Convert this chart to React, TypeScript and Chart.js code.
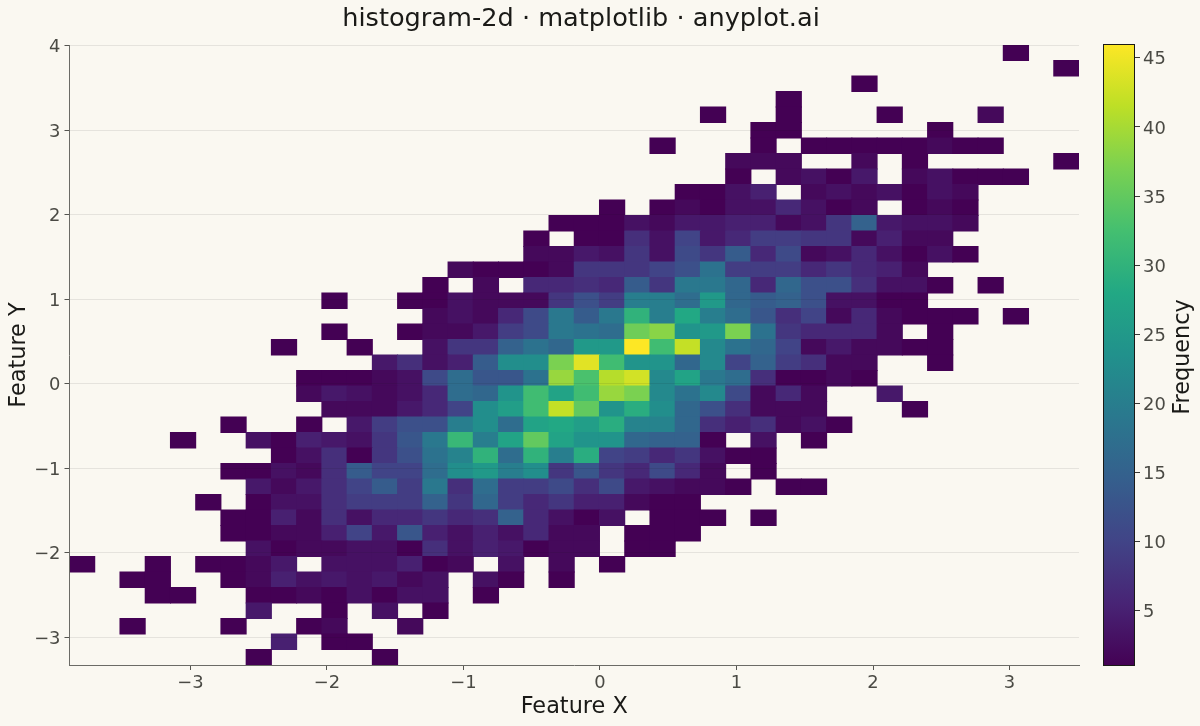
import React, { useEffect, useRef } from "react";
import { Chart, registerables } from "chart.js";

Chart.register(...registerables);

const titleText = "histogram-2d · matplotlib · anyplot.ai";
const xLabel = "Feature X";
const yLabel = "Feature Y";
const cbLabel = "Frequency";

const xTicks = [-3, -2, -1, 0, 1, 2, 3];
const yTicks = [-3, -2, -1, 0, 1, 2, 3, 4];
const cbTicks = [5, 10, 15, 20, 25, 30, 35, 40, 45];

const xRange = [-3.886, 3.509];
const yRange = [-3.331, 4.006];
const cbRange = [1, 46];
const binCount = 40;

// First occupied column of each row (top row first), then the counts from that column on.
const rowOffsets = [37, 39, 31, 28, 25, 27, 23, 26, 26, 24, 21, 19, 18, 18, 15, 14, 10, 14, 10, 8, 12, 9, 9, 10, 6, 4, 8, 6, 7, 5, 6, 6, 7, 0, 2, 3, 7, 2, 8, 7];
const rowCounts = [
  [1],
  [1],
  [1],
  [1],
  [1, 0, 0, 1, 0, 0, 0, 1, 0, 0, 0, 2],
  [1, 1, 0, 0, 0, 0, 0, 1],
  [1, 0, 0, 0, 1, 0, 1, 1, 1, 1, 1, 2, 1, 1],
  [2, 2, 2, 0, 0, 2, 0, 1, 0, 0, 0, 0, 0, 1],
  [1, 0, 2, 3, 1, 4, 0, 2, 3, 1, 1, 1],
  [1, 1, 3, 5, 0, 2, 3, 2, 3, 1, 3, 2],
  [1, 0, 1, 2, 1, 3, 3, 6, 3, 1, 2, 0, 1, 2, 1],
  [1, 1, 1, 3, 2, 4, 4, 5, 5, 2, 3, 8, 15, 4, 3, 3, 2],
  [1, 0, 1, 1, 7, 3, 10, 4, 6, 9, 9, 8, 8, 2, 5, 2, 2],
  [2, 2, 4, 3, 8, 3, 11, 8, 14, 6, 11, 2, 3, 6, 3, 1, 3, 1],
  [2, 1, 1, 1, 2, 8, 8, 8, 10, 12, 18, 9, 9, 9, 6, 8, 6, 5, 2],
  [1, 0, 2, 0, 6, 6, 7, 6, 14, 8, 19, 19, 16, 6, 16, 12, 12, 7, 3, 3, 1, 0, 1],
  [1, 0, 0, 1, 1, 3, 2, 2, 2, 8, 12, 9, 20, 20, 17, 25, 16, 14, 15, 12, 3, 3, 1, 1],
  [2, 3, 2, 6, 11, 19, 14, 19, 30, 20, 28, 20, 17, 13, 7, 10, 2, 6, 2, 1, 1, 1, 0, 1],
  [1, 0, 0, 1, 2, 2, 4, 9, 11, 19, 18, 17, 36, 38, 24, 25, 37, 18, 8, 6, 6, 6, 2, 0, 1],
  [1, 0, 0, 1, 0, 0, 3, 8, 8, 15, 18, 16, 25, 25, 46, 32, 42, 22, 18, 16, 10, 2, 4, 2, 2, 1, 1],
  [4, 7, 3, 5, 14, 23, 23, 37, 44, 32, 24, 24, 16, 22, 10, 15, 9, 7, 2, 2, 0, 0, 1],
  [1, 1, 1, 2, 3, 11, 17, 13, 13, 18, 39, 33, 41, 43, 22, 27, 19, 17, 7, 1, 1, 2, 1],
  [2, 4, 3, 2, 3, 6, 17, 16, 24, 32, 27, 32, 39, 37, 22, 18, 22, 11, 2, 6, 2, 0, 0, 4],
  [2, 2, 2, 4, 6, 10, 23, 26, 32, 42, 35, 24, 29, 23, 16, 12, 7, 2, 2, 2, 0, 0, 0, 1],
  [1, 0, 0, 1, 0, 4, 9, 12, 12, 20, 23, 17, 27, 28, 26, 29, 21, 21, 16, 7, 5, 7, 2, 3, 1],
  [1, 0, 0, 3, 1, 5, 4, 3, 8, 13, 19, 31, 20, 27, 35, 27, 24, 24, 16, 15, 15, 1, 0, 3, 0, 1],
  [1, 3, 7, 1, 8, 12, 18, 21, 30, 17, 30, 20, 29, 10, 9, 6, 8, 3, 1, 1],
  [1, 1, 3, 2, 7, 14, 10, 10, 17, 23, 25, 20, 23, 8, 13, 8, 6, 11, 6, 2, 0, 1],
  [4, 2, 4, 7, 10, 14, 9, 19, 7, 17, 9, 9, 11, 7, 11, 4, 3, 2, 2, 1, 0, 1, 1],
  [1, 0, 1, 3, 3, 7, 9, 9, 9, 15, 8, 16, 9, 6, 8, 5, 5, 2, 1, 1],
  [1, 1, 5, 2, 7, 3, 6, 6, 8, 6, 7, 15, 6, 3, 1, 3, 0, 1, 1, 1, 0, 1],
  [1, 1, 2, 2, 5, 10, 4, 13, 5, 3, 5, 3, 6, 2, 2, 0, 1, 1, 1],
  [3, 1, 2, 2, 3, 3, 1, 7, 3, 5, 4, 1, 2, 2, 0, 1, 1],
  [1, 0, 0, 1, 0, 1, 1, 2, 4, 0, 3, 3, 3, 5, 1, 2, 0, 3, 0, 2, 0, 1],
  [1, 1, 0, 0, 1, 2, 5, 3, 4, 3, 4, 2, 3, 0, 3, 1, 0, 1],
  [1, 1, 0, 0, 1, 1, 2, 1, 3, 1, 3, 3, 0, 1],
  [4, 0, 0, 1, 0, 3, 0, 1],
  [1, 0, 0, 0, 1, 0, 0, 1, 2, 0, 0, 2],
  [5, 0, 1, 1],
  [1, 0, 0, 0, 0, 1],
];

const viridisStops = ["#440154", "#482475", "#414487", "#355f8d", "#2a788e", "#21918c", "#22a884", "#44bf70", "#7ad151", "#bddf26", "#fde725"];

const BG = "#FAF8F1";
const FONT = "'DejaVu Sans', sans-serif";
const INK = "#1A1A17";
const SOFT = "#4A4A44";

function hexToRgb(h: string) {
  return [1, 3, 5].map((i) => parseInt(h.slice(i, i + 2), 16));
}

function viridis(t: number) {
  const p = Math.max(0, Math.min(1, t)) * (viridisStops.length - 1);
  const i = Math.min(Math.floor(p), viridisStops.length - 2);
  const f = p - i;
  const a = hexToRgb(viridisStops[i]);
  const b = hexToRgb(viridisStops[i + 1]);
  const c = a.map((v, k) => Math.round(v + (b[k] - v) * f));
  return `rgb(${c[0]},${c[1]},${c[2]})`;
}

function buildCells() {
  const xStep = (xRange[1] - xRange[0]) / binCount;
  const yStep = (yRange[1] - yRange[0]) / binCount;
  const points: { x: number; y: [number, number] }[] = [];
  const colors: string[] = [];
  rowCounts.forEach((row, r) => {
    row.forEach((count, k) => {
      if (!count) return;
      const col = rowOffsets[r] + k;
      const hi = yRange[1] - r * yStep;
      points.push({ x: xRange[0] + (col + 0.5) * xStep, y: [hi - yStep, hi] });
      colors.push(viridis((count - cbRange[0]) / (cbRange[1] - cbRange[0])));
    });
  });
  return { points, colors };
}

const fmt = (v: number | string) => String(v).replace("-", "\u2212");

const titleOffset = {
  id: "titleOffset",
  afterLayout(chart: any) {
    if (chart.titleBlock) chart.titleBlock.right = 1162;
  },
};

const cbTitle = {
  id: "cbTitle",
  afterDraw(chart: any) {
    const { ctx } = chart;
    ctx.save();
    ctx.translate(1183, (chart.chartArea.top + chart.chartArea.bottom) / 2 + 2);
    ctx.rotate(-Math.PI / 2);
    ctx.font = `22.4px ${FONT}`;
    ctx.fillStyle = INK;
    ctx.textAlign = "center";
    ctx.textBaseline = "middle";
    ctx.fillText(cbLabel, 0, 0);
    ctx.restore();
  },
};

export default function App() {
  const mainRef = useRef<HTMLCanvasElement>(null);
  const barRef = useRef<HTMLCanvasElement>(null);

  useEffect(() => {
    const { points, colors } = buildCells();
    const main = new Chart(mainRef.current!, {
      type: "bar",
      data: {
        datasets: [
          {
            label: "Count",
            data: points as any,
            backgroundColor: colors,
            borderWidth: 0,
            inflateAmount: 0.5,
            categoryPercentage: 1,
            barPercentage: 1,
          },
        ],
      },
      plugins: [titleOffset],
      options: {
        animation: false,
        responsive: false,
        devicePixelRatio: 1,
        layout: { padding: { left: 0, right: 121, top: 0, bottom: 0 } },
        plugins: {
          legend: { display: false },
          tooltip: { enabled: false },
          title: {
            display: true,
            text: titleText,
            color: INK,
            fullSize: true,
            font: { family: FONT, size: 25.6, weight: "normal", lineHeight: 1.2 },
            padding: { top: 4, bottom: 10.3 },
          },
        },
        scales: {
          x: {
            type: "linear",
            min: xRange[0],
            max: xRange[1],
            offset: false,
            grid: { offset: false, drawOnChartArea: false, drawTicks: true, tickLength: 5, tickColor: "#555550" },
            border: { display: true, color: "#6b6b66", width: 1, z: 2 },
            ticks: { color: SOFT, font: { family: FONT, size: 17.9 }, padding: 3, maxRotation: 0, callback: (v: any) => fmt(v) },
            title: { display: true, text: xLabel, color: INK, font: { family: FONT, size: 22.4 }, padding: { top: 3, bottom: 5 } },
            afterBuildTicks: (s: any) => {
              s.ticks = xTicks.map((value) => ({ value }));
            },
            afterFit: (s: any) => {
              s.height = 61;
            },
          },
          y: {
            type: "linear",
            min: yRange[0],
            max: yRange[1],
            grid: { z: 1, color: "rgba(26,26,23,0.09)", lineWidth: 1, drawTicks: true, tickLength: 5, tickColor: "#555550" },
            border: { display: true, color: "#6b6b66", width: 1, z: 2 },
            ticks: { color: SOFT, font: { family: FONT, size: 17.9 }, padding: 4, labelOffset: 2, callback: (v: any) => fmt(v) },
            title: { display: true, text: yLabel, color: INK, font: { family: FONT, size: 22.4 }, padding: { top: 6, bottom: 0 } },
            afterBuildTicks: (s: any) => {
              s.ticks = yTicks.map((value) => ({ value }));
            },
            afterFit: (s: any) => {
              s.width = 69.5;
            },
          },
        },
      } as any,
    });

    const bar = new Chart(barRef.current!, {
      type: "bar",
      data: {
        labels: [cbLabel],
        datasets: [
          {
            label: cbLabel,
            data: [cbRange as any],
            categoryPercentage: 1,
            barPercentage: 1,
            borderWidth: 1,
            borderColor: "#1a1a17",
            borderSkipped: false,
            inflateAmount: 0,
            backgroundColor: (c: any) => {
              const area = c.chart.chartArea;
              if (!area) return viridisStops[5];
              const g = c.chart.ctx.createLinearGradient(0, area.bottom, 0, area.top);
              viridisStops.forEach((s, i) => g.addColorStop(i / (viridisStops.length - 1), s));
              return g;
            },
          },
        ],
      },
      plugins: [cbTitle],
      options: {
        animation: false,
        responsive: false,
        devicePixelRatio: 1,
        layout: { padding: { left: 1103, right: 0, top: 44, bottom: 60 } },
        plugins: { legend: { display: false }, tooltip: { enabled: false }, title: { display: false } },
        scales: {
          x: { display: false },
          y: {
            position: "right",
            min: cbRange[0],
            max: cbRange[1],
            grid: { drawOnChartArea: false, drawTicks: true, tickLength: 5, tickColor: "#3a3a36" },
            border: { display: false },
            ticks: { color: SOFT, font: { family: FONT, size: 17.9 }, padding: 3, labelOffset: 2 },
            afterBuildTicks: (s: any) => {
              s.ticks = cbTicks.map((value) => ({ value }));
            },
            afterFit: (s: any) => {
              s.width = 65;
            },
          },
        },
      } as any,
    });

    return () => {
      main.destroy();
      bar.destroy();
    };
  }, []);

  const canvasStyle: React.CSSProperties = { position: "absolute", left: 0, top: 0, display: "block" };
  return (
    <div style={{ position: "fixed", left: 0, top: 0, width: 1200, height: 726, background: BG, overflow: "hidden" }}>
      <canvas ref={mainRef} width={1200} height={726} style={canvasStyle} />
      <canvas ref={barRef} width={1200} height={726} style={canvasStyle} />
    </div>
  );
}
